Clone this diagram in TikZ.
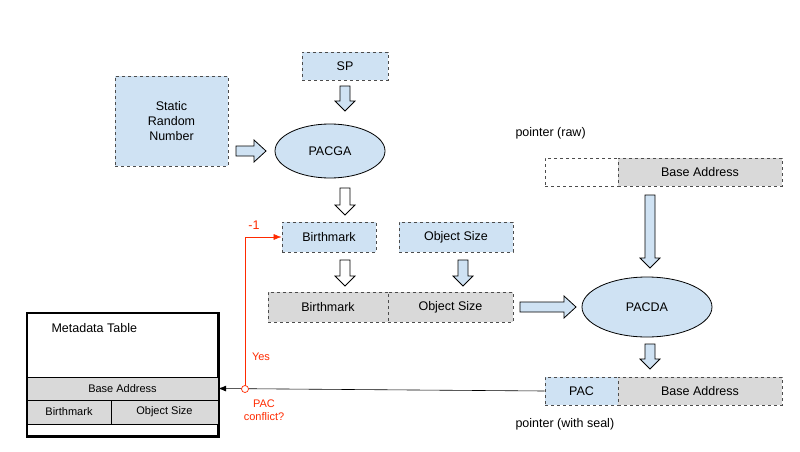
\documentclass[tikz,border=0pt]{standalone}
\usepackage{fontspec}
\setmainfont{Liberation Sans}
\usetikzlibrary{shapes.geometric,arrows.meta}
\definecolor{lb}{HTML}{CFE2F3}
\definecolor{gr}{HTML}{D9D9D9}
\definecolor{rd}{HTML}{FF2A00}
\newcommand{\myarrdown}[4]{\draw[#4,line width=0.8pt] (#1-5,#2) -- (#1+5,#2) -- (#1+5,#3-10) -- (#1+10,#3-10) -- (#1,#3) -- (#1-10,#3-10) -- (#1-5,#3-10) -- cycle;}
\newcommand{\myarrright}[4]{\draw[#4,line width=0.8pt] (#1,#3-5) -- (#2-12,#3-5) -- (#2-12,#3-11) -- (#2,#3) -- (#2-12,#3+11) -- (#2-12,#3+5) -- (#1,#3+5) -- cycle;}
\begin{document}
\begin{tikzpicture}[x=1pt,y=-1pt,
 db/.style={draw=black!70,dashed,line width=0.8pt,fill=lb,inner sep=0pt},
 dg/.style={draw=black!70,dashed,line width=0.8pt,fill=gr,inner sep=0pt},
 el/.style={ellipse,draw=black,line width=0.8pt,fill=lb,inner sep=0pt},
 t/.style={font=\fontsize{12.5}{15}\selectfont},
 s/.style={font=\fontsize{11}{13}\selectfont}]
\useasboundingbox (0,0) rectangle (800,452);
\node[db,t,minimum width=86,minimum height=28] (sp) at (345,66) {SP};
\node[db,t,minimum width=113,minimum height=90,align=center] (srn) at (171.5,121) {Static\\Random\\Number};
\node[el,t,minimum width=110,minimum height=54] (pacga) at (330,151) {PACGA};
\node[db,t,minimum width=94,minimum height=30] (bm) at (329,237) {Birthmark};
\node[db,t,minimum width=114,minimum height=30] (os) at (456,237) {Object Size};
\node[dg,t,minimum width=120,minimum height=30] (bm2) at (328,307) {Birthmark};
\node[dg,t,minimum width=125,minimum height=30] (os2) at (450.5,307) {Object Size};
\node[el,t,minimum width=130,minimum height=60] (pacda) at (647,307) {PACDA};
\node[t,anchor=west] (praw) at (512,133) {pointer (raw)};
\node[draw=black!70,dashed,line width=0.8pt,fill=white,minimum width=73,minimum height=28,inner sep=0] (raw1) at (581.5,172) {};
\node[dg,t,minimum width=164,minimum height=28] (raw2) at (700,172) {Base Address};
\node[db,t,minimum width=73,minimum height=28] (pac) at (581.5,391) {PAC};
\node[dg,t,minimum width=164,minimum height=28] (pba) at (700,391) {Base Address};
\node[t,anchor=west] (pws) at (512,424) {pointer (with seal)};
% metadata table
\node[draw,line width=1.5pt,minimum width=191,minimum height=123,inner sep=0] (mt) at (122.5,374.5) {};
\node[t,anchor=west] (mtl) at (48,328) {Metadata Table};
\node[draw,fill=gr,s,minimum width=191,minimum height=23,inner sep=0] (mba) at (122.5,388.5) {Base Address};
\node[draw,fill=gr,s,minimum width=84,minimum height=24,inner sep=0] (mbm) at (69,412) {Birthmark};
\node[draw,fill=gr,s,minimum width=107,minimum height=24,inner sep=0] (mos) at (164.5,412) {Object Size};
\draw[line width=1.5pt] (mt.north west) rectangle (mt.south east);
% block arrows
\myarrdown{345}{86}{111}{fill=lb}
\myarrright{236}{266}{151}{fill=lb}
\myarrdown{345}{188}{215}{fill=white}
\myarrdown{345}{260}{286}{fill=white}
\myarrdown{463}{260}{286}{fill=lb}
\myarrright{520}{576}{307}{fill=lb}
\myarrdown{650}{195}{268}{fill=lb}
\myarrdown{650}{344}{369}{fill=lb}
% connectors
\coordinate (c) at (245,389);
\draw[-{Latex[length=8pt,width=6pt]},line width=0.6pt] (pac.west) -- (mba.east);
\draw[rd,-{Latex[length=8pt,width=6pt]},line width=0.6pt] (c) -- (245,237) -- (bm.west);
\draw[rd,fill=white,line width=0.7pt] (c) circle (3.5);
\node[rd,t] (m1) at (254,225) {-1};
\node[rd,s] (yes) at (261,357) {Yes};
\node[rd,s,align=center] (pc) at (264,410) {PAC\\conflict?};
\end{tikzpicture}
\end{document}
